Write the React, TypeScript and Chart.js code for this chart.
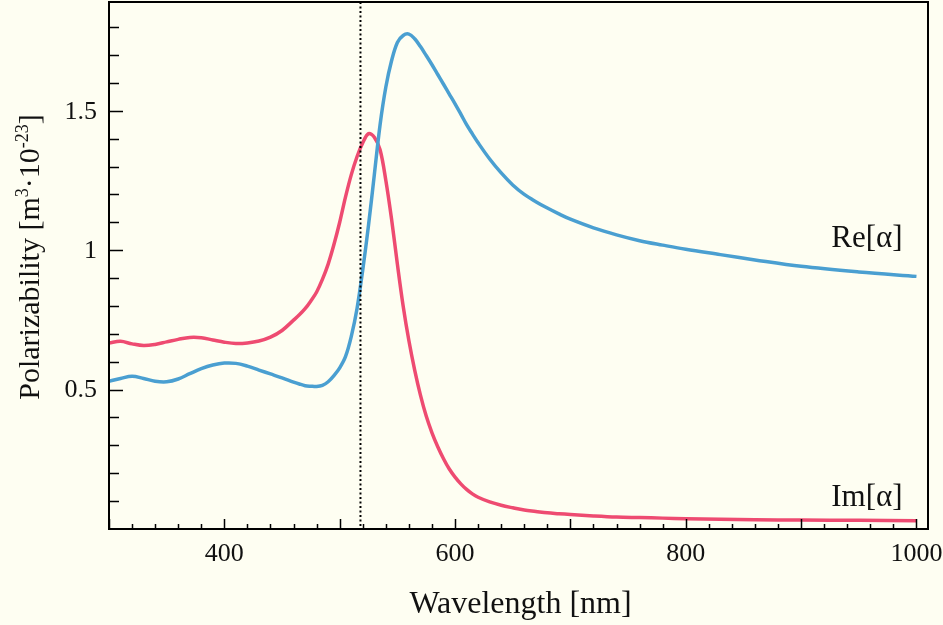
import React, { useEffect, useRef } from "react";
import { Chart, registerables } from "chart.js";

Chart.register(...registerables);

// ---- data ----
const wavelengths = [
  300, 310, 320, 330, 340, 350, 360, 370, 380, 390, 400, 410, 420, 430, 440, 450, 460,
  465, 470, 475, 480, 485, 490, 495, 500, 505, 510, 515, 520, 525, 530, 535, 540, 545, 550,
  555, 560, 565, 570, 575, 580, 585, 590, 595, 600, 605, 610, 615, 620,
  630, 640, 650, 660, 670, 680, 690, 700, 720, 740, 760, 780, 800, 830, 860, 900, 950, 1000,
];

const reAlpha = [
  0.53, 0.54, 0.548, 0.54, 0.53, 0.528, 0.538, 0.557, 0.575, 0.588, 0.595, 0.594, 0.584, 0.57, 0.556, 0.542, 0.527,
  0.52, 0.514, 0.512, 0.511, 0.515, 0.528, 0.55, 0.578, 0.618, 0.69, 0.79, 0.93, 1.09, 1.27, 1.45, 1.585, 1.68, 1.745,
  1.77, 1.775, 1.758, 1.73, 1.698, 1.665, 1.63, 1.595, 1.56, 1.525, 1.488, 1.45, 1.417, 1.385,
  1.327, 1.277, 1.234, 1.2, 1.174, 1.151, 1.13, 1.111, 1.08, 1.055, 1.034, 1.018, 1.003, 0.984, 0.965, 0.942, 0.922, 0.906,
];

const imAlpha = [
  0.667, 0.673, 0.664, 0.658, 0.662, 0.671, 0.68, 0.687, 0.686, 0.678, 0.67, 0.665, 0.667, 0.674, 0.688, 0.712, 0.749,
  0.768, 0.79, 0.818, 0.85, 0.895, 0.95, 1.02, 1.1, 1.19, 1.27, 1.335, 1.385, 1.418, 1.405, 1.36, 1.25, 1.11, 0.95,
  0.8, 0.675, 0.57, 0.48, 0.405, 0.345, 0.295, 0.252, 0.215, 0.186, 0.162, 0.142, 0.126, 0.114,
  0.097, 0.085, 0.076, 0.068, 0.063, 0.058, 0.055, 0.052, 0.047, 0.043, 0.041, 0.039, 0.037, 0.035, 0.033, 0.032, 0.031, 0.03,
];

const xTickLabels = [400, 600, 800, 1000];
const yTickLabels = [0.5, 1, 1.5];
const markerWavelength = 518;
const seriesNames = ["Re[α]", "Im[α]"];
const xTitle = "Wavelength [nm]";

// ---- style ----
const BG = "#FEFEF2";
const BLUE = "#4A9FD1";
const RED = "#EE4B71";
const SERIF = "'Liberation Serif', 'Times New Roman', serif";

const decorPlugin = {
  id: "decor",
  beforeDraw(chart: any) {
    const { ctx, width, height } = chart;
    ctx.save();
    ctx.fillStyle = BG;
    ctx.fillRect(0, 0, width, height);
    ctx.restore();
  },
  afterDatasetsDraw(chart: any) {
    const { ctx, chartArea: a } = chart;
    const x = chart.scales.x;
    const y = chart.scales.y;
    ctx.save();
    // dotted marker line
    const mx = x.getPixelForValue(markerWavelength);
    ctx.strokeStyle = "#000";
    ctx.lineWidth = 2;
    ctx.setLineDash([2, 2.5]);
    ctx.beginPath();
    ctx.moveTo(mx, a.top);
    ctx.lineTo(mx, a.bottom);
    ctx.stroke();
    ctx.setLineDash([]);

    // frame
    ctx.lineWidth = 2;
    ctx.strokeRect(a.left, a.top, a.right - a.left, a.bottom - a.top);

    // x ticks (inward)
    ctx.lineWidth = 1.5;
    ctx.beginPath();
    for (let v = 300; v <= 1000; v += 20) {
      const px = Math.round(x.getPixelForValue(v)) + 0.5;
      const len = v % 100 === 0 ? 10 : 5;
      ctx.moveTo(px, a.bottom);
      ctx.lineTo(px, a.bottom - len);
    }
    // y ticks (inward)
    for (let i = 1; i <= 18; i++) {
      const py = Math.round(y.getPixelForValue(i / 10)) + 0.5;
      const len = i % 5 === 0 ? 14 : 10;
      ctx.moveTo(a.left, py);
      ctx.lineTo(a.left + len, py);
    }
    ctx.stroke();

    // tick labels
    ctx.fillStyle = "#111";
    ctx.font = `26px ${SERIF}`;
    ctx.textAlign = "center";
    ctx.textBaseline = "middle";
    xTickLabels.forEach((v) => {
      ctx.fillText(String(v), x.getPixelForValue(v), a.bottom + 25);
    });
    ctx.textAlign = "right";
    yTickLabels.forEach((v) => {
      ctx.fillText(String(v), a.left - 12, y.getPixelForValue(v) + 1);
    });

    // series labels
    ctx.font = `31px ${SERIF}`;
    ctx.textAlign = "right";
    ctx.fillText(seriesNames[0], x.getPixelForValue(988), y.getPixelForValue(1.04));
    ctx.fillText(seriesNames[1], x.getPixelForValue(988), y.getPixelForValue(0.113));

    // x title
    ctx.font = `32px ${SERIF}`;
    ctx.textAlign = "center";
    ctx.fillText(xTitle, (a.left + a.right) / 2 + 2, 605);

    // y title with superscripts
    const segs: [string, boolean][] = [
      ["Polarizability [m", false],
      ["3", true],
      ["·10", false],
      ["-23", true],
      ["]", false],
    ];
    const big = `30px ${SERIF}`;
    const small = `18px ${SERIF}`;
    let total = 0;
    const widths = segs.map(([t, sup]) => {
      ctx.font = sup ? small : big;
      const w = ctx.measureText(t).width;
      total += w;
      return w;
    });
    ctx.translate(29, 257);
    ctx.rotate(-Math.PI / 2);
    ctx.textAlign = "left";
    ctx.textBaseline = "alphabetic";
    let cx = -total / 2;
    segs.forEach(([t, sup], i) => {
      ctx.font = sup ? small : big;
      ctx.fillText(t, cx, sup ? -1 : 10);
      cx += widths[i];
    });
    ctx.restore();
  },
};

export default function App() {
  const ref = useRef<HTMLCanvasElement | null>(null);
  useEffect(() => {
    if (!ref.current) return;
    const chart = new Chart(ref.current, {
      type: "line",
      data: {
        datasets: [
          {
            label: seriesNames[0],
            data: wavelengths.map((w, i) => ({ x: w, y: reAlpha[i] })),
            borderColor: BLUE,
            borderWidth: 3.5,
            pointRadius: 0,
            tension: 0.35,
            fill: false,
          },
          {
            label: seriesNames[1],
            data: wavelengths.map((w, i) => ({ x: w, y: imAlpha[i] })),
            borderColor: RED,
            borderWidth: 3.5,
            pointRadius: 0,
            tension: 0.35,
            fill: false,
          },
        ],
      },
      options: {
        animation: false,
        responsive: false,
        layout: { padding: { left: 0, top: 2, right: 15, bottom: 0 } },
        plugins: { legend: { display: false }, tooltip: { enabled: false } },
        scales: {
          x: {
            type: "linear",
            min: 300,
            max: 1010,
            grid: { display: false, drawTicks: false },
            border: { display: false },
            ticks: { display: false },
            afterFit: (s: any) => {
              s.height = 96;
            },
          },
          y: {
            type: "linear",
            min: 0,
            max: 1.89,
            grid: { display: false, drawTicks: false },
            border: { display: false },
            ticks: { display: false },
            afterFit: (s: any) => {
              s.width = 109;
            },
          },
        },
      },
      plugins: [decorPlugin],
    } as any);
    return () => chart.destroy();
  }, []);
  return (
    <div style={{ position: "absolute", left: 0, top: 0, width: 943, height: 625, background: BG }}>
      <canvas ref={ref} width={943} height={625} />
    </div>
  );
}
